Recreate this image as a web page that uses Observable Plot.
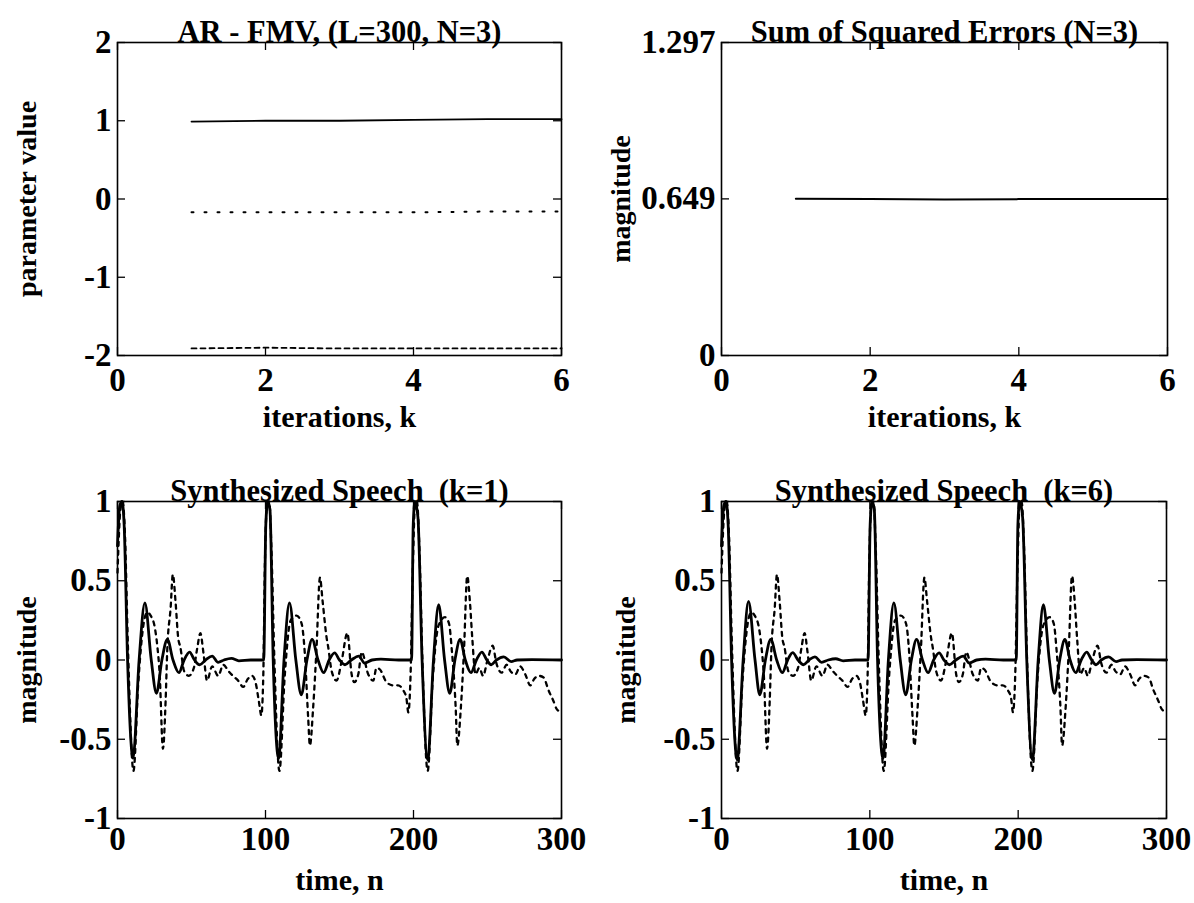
<!DOCTYPE html>
<html><head><meta charset="utf-8">
<script src="https://cdn.jsdelivr.net/npm/d3@7"></script>
<script src="https://cdn.jsdelivr.net/npm/@observablehq/plot@0.6"></script>
<style>
body{margin:0;background:#fff;}
#wrap{position:relative;width:1194px;height:903px;background:#fff;}
#wrap svg{position:absolute;overflow:visible;}
</style></head><body><div id="wrap"></div>
<script>
// ---------- data ----------
const iterations = [1, 2, 3, 4, 5, 6];
const paramA1 = [0.99, 1.00, 1.00, 1.01, 1.02, 1.02];     // solid
const paramA2 = [-0.17, -0.17, -0.17, -0.17, -0.16, -0.16]; // dotted
const paramA3 = [-1.91, -1.90, -1.91, -1.91, -1.91, -1.91]; // dashed
const sse = [0.650, 0.649, 0.646, 0.648, 0.648, 0.649];

const kTicks = [0, 2, 4, 6];
const paramTicks = [-2, -1, 0, 1, 2];
const sseTicks = [0, 0.649, 1.297];
const timeTicks = [0, 100, 200, 300];
const magTicks = [-1, -0.5, 0, 0.5, 1];

// original speech (dotted), [n, value]
const originalSpeech = [
  [0,0.55],[2,0.95],[3.5,1.0],[5,0.8],[7,0.1],[10.8,-0.70],[14,-0.15],[17.5,0.22],[20,0.3],[22.4,0.28],
  [25.3,0.2],[27,0.08],[28.5,-0.09],[30.7,-0.56],[32.5,-0.26],[33.6,0.06],[35.9,0.33],[37.4,0.54],[39.2,0.37],
  [41,0.14],[42.5,0.08],[45,-0.07],[48.2,-0.1],[51.6,-0.05],[53.8,0.07],[56,0.17],[58,0.05],[60.5,-0.13],
  [64,-0.04],[68,-0.10],[71.5,-0.03],[75,-0.07],[78,-0.10],[81.5,-0.13],[85,-0.17],[88,-0.12],[91,-0.10],
  [93.5,-0.15],[95.5,-0.26],[97.2,-0.35],[98.5,-0.1],[99.6,0.6],[101,0.98],[102.5,1.0],[104,0.7],[106,0.0],
  [109.4,-0.70],[113,-0.1],[117,0.25],[121,0.28],[124.4,0.23],[126.5,0.05],[128.8,-0.36],[130,-0.54],
  [132.2,-0.3],[134.4,0.06],[136.8,0.52],[138.6,0.37],[141.3,0.14],[142.4,0.08],[144.7,-0.07],[148,-0.13],
  [151.4,-0.01],[155.3,0.17],[158.2,-0.09],[160,-0.14],[162.7,-0.09],[165,0.05],[169.4,-0.09],[172.8,-0.13],
  [175,-0.05],[177.3,-0.06],[181.8,-0.14],[186.3,-0.16],[189.6,-0.16],[193,-0.19],[195.2,-0.24],[196.5,-0.33],
  [198,-0.1],[199.6,0.6],[201,0.98],[202.3,1.0],[204,0.7],[206,0.0],[209.6,-0.70],[213,-0.12],[217,0.22],
  [221.3,0.27],[224,0.23],[226,0.05],[228.5,-0.3],[229.6,-0.54],[232,-0.3],[234.1,0.06],[236.3,0.53],
  [238.1,0.37],[239.7,0.14],[241.9,-0.09],[244.5,-0.05],[247,-0.1],[250,0.0],[253.5,0.09],[256,-0.02],
  [259.5,-0.08],[263,-0.03],[265.5,-0.07],[268.9,-0.09],[272,-0.04],[275.5,-0.09],[278.9,-0.16],[281.5,-0.12],
  [284.5,-0.1],[287.9,-0.11],[291.2,-0.19],[294.6,-0.26],[296.8,-0.31],[300,-0.33]
];

// synthesized speech k=1 (solid)
const synthK1 = [
  [0,0.72],[1.5,0.97],[3,1.0],[4.5,0.85],[6.8,0.0],[10.5,-0.62],[14.6,0.0],[18.5,0.36],[22.8,0.0],[26.3,-0.21],
  [30,0.0],[33.7,0.13],[37.5,0.0],[41.5,-0.08],[45,0.0],[48.7,0.05],[52,0.0],[55.5,-0.03],[59.5,0.0],[64,0.025],
  [68,-0.015],[72,0.0],[77,0.01],[82,-0.005],[90,0.0],[98.8,0.0],[100.2,0.85],[101.5,1.0],[103,0.95],[105.2,0.0],
  [108.9,-0.62],[112.5,0.0],[116.2,0.36],[120.5,0.0],[124.2,-0.22],[128,0.0],[131.5,0.13],[135.5,0.0],
  [139.3,-0.08],[143,0.0],[146.7,0.045],[150,0.0],[153.7,-0.03],[158,0.0],[163,0.025],[167,-0.02],[172,0.0],
  [178,0.005],[190,0.0],[198.7,0.0],[199.8,0.85],[201,1.0],[203,0.9],[205.8,0.0],[209.6,-0.63],[213.5,0.0],
  [217,0.35],[221,0.0],[224.5,-0.21],[228,0.0],[231.5,0.13],[235,0.0],[238.8,-0.08],[242.5,0.0],[246.2,0.05],
  [249.5,0.0],[252.5,-0.03],[256,0.0],[261,0.02],[266,-0.01],[270,0.0],[280,0.003],[300,0.0]
];

// synthesized speech k=6 (solid)
const synthK6 = [
  [0,0.72],[1.5,0.97],[3,1.0],[4.5,0.85],[6.8,0.0],[10.6,-0.63],[14.6,0.0],[18.2,0.37],[22.6,0.0],[25.8,-0.22],
  [29.6,0.0],[33.2,0.13],[37.2,0.0],[41,-0.08],[44.6,0.0],[48,0.046],[51.6,0.0],[55.3,-0.03],[59,0.0],[63,0.02],
  [67.5,-0.015],[72,0.0],[77,0.008],[82,-0.005],[90,0.0],[98.8,0.0],[100.2,0.85],[101.5,1.0],[103,0.95],[105.2,0.0],
  [108.9,-0.62],[112.5,0.0],[116.2,0.36],[120.5,0.0],[124.2,-0.22],[128,0.0],[131.5,0.13],[135.5,0.0],
  [139.3,-0.08],[143,0.0],[146.7,0.045],[150,0.0],[153.7,-0.03],[158,0.0],[163,0.025],[167,-0.02],[172,0.0],
  [178,0.005],[190,0.0],[198.7,0.0],[199.8,0.85],[201,1.0],[203,0.9],[205.8,0.0],[209.6,-0.63],[213.5,0.0],
  [217,0.35],[221,0.0],[224.5,-0.21],[228,0.0],[231.5,0.13],[235,0.0],[238.8,-0.08],[242.5,0.0],[246.2,0.05],
  [249.5,0.0],[252.5,-0.03],[256,0.0],[261,0.02],[266,-0.01],[270,0.0],[280,0.003],[300,0.0]
];

// ---------- drawing ----------
const wrap = document.getElementById("wrap");
const FONT = "'Liberation Serif', 'Times New Roman', serif";

function panel(o) {
  const H = o.height - o.mT - o.mB, Wf = o.width - o.mL - o.mR, tk = 8;
  const svg = Plot.plot({
    width: o.width, height: o.height,
    marginLeft: o.mL, marginRight: o.mR, marginTop: o.mT, marginBottom: o.mB,
    x: {domain: o.xDomain}, y: {domain: o.yDomain},
    style: {fontFamily: FONT, fontWeight: "bold", fontSize: "33px", background: "transparent", color: "black", overflow: "visible"},
    marks: [
      ...o.marks,
      Plot.frame({stroke: "black", strokeWidth: 1.6}),
      Plot.tickX(o.xTicks, {x: d => d, insetTop: H - tk, strokeWidth: 1.3}),
      Plot.tickX(o.xTicks, {x: d => d, insetBottom: H - tk, strokeWidth: 1.3}),
      Plot.tickY(o.yTicks, {y: d => d, insetRight: Wf - tk, strokeWidth: 1.3}),
      Plot.tickY(o.yTicks, {y: d => d, insetLeft: Wf - tk, strokeWidth: 1.3}),
      Plot.axisX(o.xTicks, {tickSize: 0, tickPadding: o.xPad, label: null, tickFormat: d => String(d)}),
      Plot.axisY(o.yTicks, {tickSize: 0, tickPadding: 6, label: null, tickFormat: d => String(d)}),
      Plot.text([o.title], {text: d => d, frameAnchor: "top", textAnchor: "middle", lineAnchor: "bottom", dy: -1, fontSize: 30.5}),
      Plot.text([o.xLabel], {text: d => d, frameAnchor: "bottom", textAnchor: "middle", dy: 71, fontSize: 30}),
      Plot.text([o.yLabel], {text: d => d, frameAnchor: "left", textAnchor: "middle", lineAnchor: "middle", dx: o.yDx, rotate: -90, fontSize: 28})
    ]
  });
  svg.style.left = o.left + "px";
  svg.style.top = o.top + "px";
  wrap.appendChild(svg);
}

const paramRows = iterations.map((k, i) => ({k, a1: paramA1[i], a2: paramA2[i], a3: paramA3[i], sse: sse[i]}));

panel({
  left: 0, top: 0, width: 597, height: 450, mL: 117, mR: 36, mT: 42, mB: 95,
  xDomain: [0, 6], yDomain: [-2, 2], xTicks: kTicks, yTicks: paramTicks, xPad: 12,
  title: "AR - FMV, (L=300, N=3)", xLabel: "iterations, k", yLabel: "parameter value", yDx: -90,
  marks: [
    Plot.line(paramRows, {x: "k", y: "a1", stroke: "black", strokeWidth: 1.8}),
    Plot.line(paramRows, {x: "k", y: "a2", stroke: "black", strokeWidth: 2, strokeDasharray: "2,11"}),
    Plot.line(paramRows, {x: "k", y: "a3", stroke: "black", strokeWidth: 1.8, strokeDasharray: "5,4"})
  ]
});

panel({
  left: 597, top: 0, width: 597, height: 450, mL: 124, mR: 27, mT: 42, mB: 95,
  xDomain: [0, 6], yDomain: [0, 1.297], xTicks: kTicks, yTicks: sseTicks, xPad: 12,
  title: "Sum of Squared Errors (N=3)", xLabel: "iterations, k", yLabel: "magnitude", yDx: -100,
  marks: [
    Plot.line(paramRows, {x: "k", y: "sse", stroke: "black", strokeWidth: 2})
  ]
});

panel({
  left: 0, top: 450, width: 597, height: 453, mL: 117, mR: 36, mT: 51, mB: 85,
  xDomain: [0, 300], yDomain: [-1, 1], xTicks: timeTicks, yTicks: magTicks, xPad: 8,
  title: "Synthesized Speech  (k=1)", xLabel: "time, n", yLabel: "magnitude", yDx: -90,
  marks: [
    Plot.line(originalSpeech, {x: d => d[0], y: d => d[1], stroke: "black", strokeWidth: 2.3, strokeDasharray: "4,5", curve: "monotone-x"}),
    Plot.line(synthK1, {x: d => d[0], y: d => d[1], stroke: "black", strokeWidth: 2.8, curve: "monotone-x"})
  ]
});

panel({
  left: 597, top: 450, width: 597, height: 453, mL: 124, mR: 28, mT: 51, mB: 85,
  xDomain: [0, 300], yDomain: [-1, 1], xTicks: timeTicks, yTicks: magTicks, xPad: 8,
  title: "Synthesized Speech  (k=6)", xLabel: "time, n", yLabel: "magnitude", yDx: -95,
  marks: [
    Plot.line(originalSpeech, {x: d => d[0], y: d => d[1], stroke: "black", strokeWidth: 2.3, strokeDasharray: "4,5", curve: "monotone-x"}),
    Plot.line(synthK6, {x: d => d[0], y: d => d[1], stroke: "black", strokeWidth: 2.8, curve: "monotone-x"})
  ]
});
</script>
</body></html>
